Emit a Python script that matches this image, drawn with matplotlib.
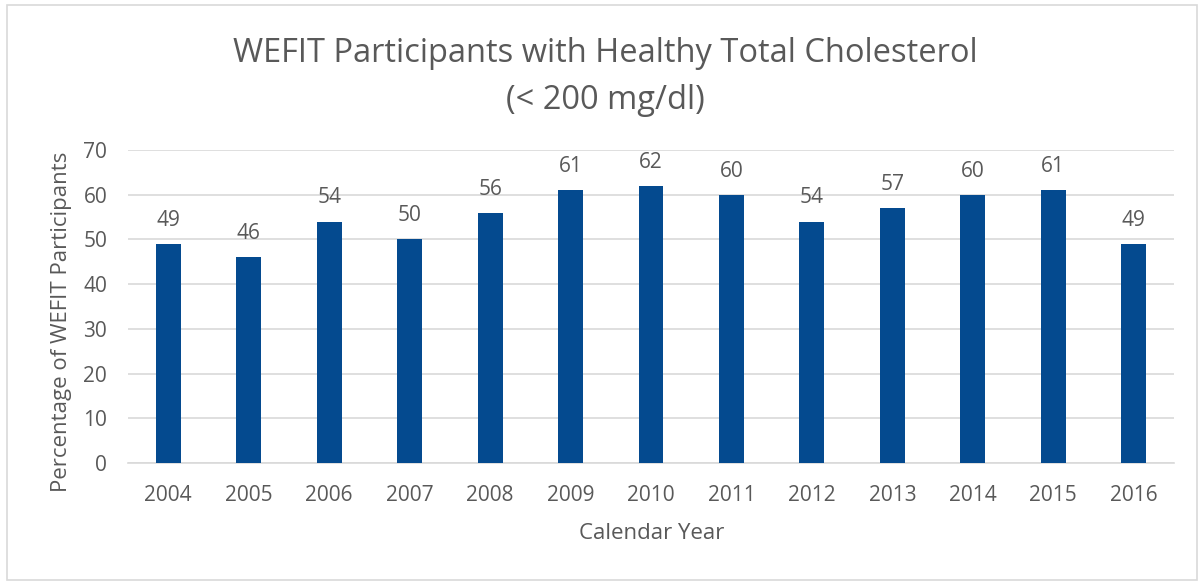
import matplotlib
matplotlib.use("Agg")
import matplotlib.pyplot as plt
from matplotlib.patches import Rectangle

years = ["2004", "2005", "2006", "2007", "2008", "2009", "2010",
         "2011", "2012", "2013", "2014", "2015", "2016"]
values = [49, 46, 54, 50, 56, 61, 62, 60, 54, 57, 60, 61, 49]
yticks = [0, 10, 20, 30, 40, 50, 60, 70]

TXT = "#595959"
BAR = "#044A8F"
GRID = "#D9D9D9"

plt.rcParams['font.family'] = ['Open Sans', 'DejaVu Sans']

W, H = 1201, 582
fig = plt.figure(figsize=(W / 100, H / 100), dpi=100)
fig.patches.append(Rectangle((7 / W, 2 / H), (1197 - 7) / W, (577 - 2) / H,
                             transform=fig.transFigure, fill=False,
                             edgecolor=GRID, linewidth=1.2))

ax = fig.add_axes([128 / W, 119 / H, (1174 - 128) / W, (463 - 150) / H])
x = list(range(len(years)))
ax.bar(x, values, width=0.31, color=BAR, zorder=3)
for xi, v in zip(x, values):
    ax.annotate(str(v), (xi, v), xytext=(0, 13), textcoords="offset points",
                ha="center", va="baseline", fontsize=15, color=TXT)

ax.set_xlim(-0.5, len(years) - 0.5)
ax.set_ylim(0, 70)
ax.set_yticks(yticks)
ax.set_xticks(x)
ax.set_xticklabels(years)
ax.grid(axis="y", color=GRID, linewidth=1.2, zorder=0)
for s in ["top", "right", "left"]:
    ax.spines[s].set_visible(False)
ax.spines["bottom"].set_color(GRID)
ax.spines["bottom"].set_linewidth(1.2)
ax.tick_params(axis="both", length=0, labelsize=15, colors=TXT)
ax.tick_params(axis="x", pad=16)
ax.tick_params(axis="y", pad=15)

ax.set_xlabel("Calendar Year", fontsize=16, color=TXT, va="center", ha="center")
ax.xaxis.set_label_coords((651.5 - 128) / 1046, (463 - 533.5) / 313)
ax.set_ylabel("Percentage of WEFIT Participants", fontsize=16, color=TXT,
              va="center", ha="center")
ax.yaxis.set_label_coords((62 - 128) / 1046, (463 - 322) / 313)

fig.text(605 / W, 1 - 62 / H, "WEFIT Participants with Healthy Total Cholesterol",
         ha="center", va="baseline", fontsize=23.5, color=TXT)
fig.text(605 / W, 1 - 109 / H, "(< 200 mg/dl)",
         ha="center", va="baseline", fontsize=23.5, color=TXT)

fig.savefig("out.png", dpi=100, facecolor="white")
